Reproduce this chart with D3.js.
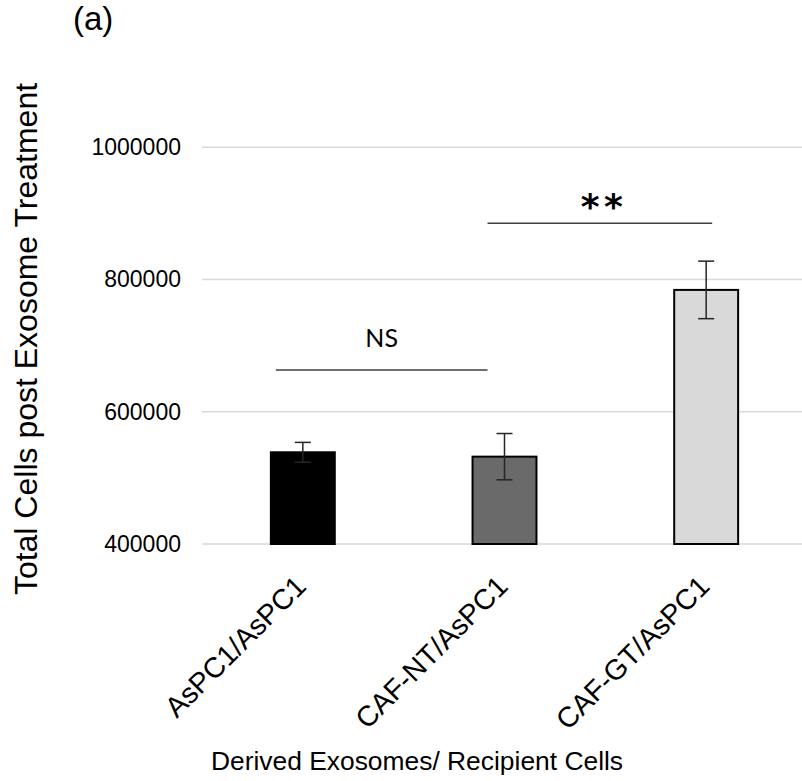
<!DOCTYPE html>
<html>
<head>
<meta charset="utf-8">
<script src="https://cdn.jsdelivr.net/npm/d3@7"></script>
<style>
  body { margin: 0; background: #fff; }
  text { font-family: "Liberation Sans", Arial, sans-serif; fill: #000; }
</style>
</head>
<body>
<svg id="chart" width="802" height="781"></svg>
<script>
// data
const categories = ["AsPC1/AsPC1", "CAF-NT/AsPC1", "CAF-GT/AsPC1"];
const means = [538700, 532100, 784300];
const errors = [15000, 35000, 43500];
const barColors = ["#000000", "#6a6a6a", "#d9d9d9"];
const yTicks = [400000, 600000, 800000, 1000000];

// significance brackets: from category, to category, level, label
const sigFrom = ["AsPC1/AsPC1", "CAF-NT/AsPC1"];
const sigTo = ["CAF-NT/AsPC1", "CAF-GT/AsPC1"];
const sigLevel = [663000, 885000];
const sigLabel = ["NS", "* *"];

const svg = d3.select("#chart");

const x = d3.scaleBand()
    .domain(categories)
    .range([202, 807])
    .paddingInner(0.683)
    .paddingOuter(0.3415);

const y = d3.scaleLinear()
    .domain([400000, 1000000])
    .range([544, 147.3]);

// gridlines
svg.append("g")
  .selectAll("line")
  .data(yTicks)
  .join("line")
    .attr("x1", 202)
    .attr("x2", 802)
    .attr("y1", d => y(d))
    .attr("y2", d => y(d))
    .attr("stroke", "#d9d9d9")
    .attr("stroke-width", 1.5);

// y axis labels
const yAxis = svg.append("g")
    .attr("transform", "translate(202,0)")
    .call(d3.axisLeft(y).tickValues(yTicks).tickFormat(d3.format("d")).tickSize(0).tickPadding(21));
yAxis.select(".domain").remove();
yAxis.selectAll("text")
    .style("font-family", "Liberation Sans, Arial, sans-serif")
    .style("font-size", "23px")
    .attr("fill", "#000");

// bars
const data = categories.map((c, i) => ({ cat: c, mean: means[i], err: errors[i], color: barColors[i] }));

svg.append("g")
  .selectAll("rect")
  .data(data)
  .join("rect")
    .attr("x", d => x(d.cat))
    .attr("y", d => y(d.mean))
    .attr("width", x.bandwidth())
    .attr("height", d => y(400000) - y(d.mean))
    .attr("fill", d => d.color)
    .attr("stroke", "#000")
    .attr("stroke-width", 2);

// error bars
const cx = d => x(d) + x.bandwidth() / 2;
const eb = svg.append("g")
    .attr("stroke", "#262626")
    .attr("stroke-width", 1.5);

eb.selectAll(".stem")
  .data(data)
  .join("line")
    .attr("class", "stem")
    .attr("x1", d => cx(d.cat))
    .attr("x2", d => cx(d.cat))
    .attr("y1", d => y(d.mean + d.err))
    .attr("y2", d => y(d.mean - d.err));

eb.selectAll(".capTop")
  .data(data)
  .join("line")
    .attr("class", "capTop")
    .attr("x1", d => cx(d.cat) - 8)
    .attr("x2", d => cx(d.cat) + 8)
    .attr("y1", d => y(d.mean + d.err))
    .attr("y2", d => y(d.mean + d.err));

eb.selectAll(".capBottom")
  .data(data)
  .join("line")
    .attr("class", "capBottom")
    .attr("x1", d => cx(d.cat) - 8)
    .attr("x2", d => cx(d.cat) + 8)
    .attr("y1", d => y(d.mean - d.err))
    .attr("y2", d => y(d.mean - d.err));

// x axis labels
svg.append("g")
  .selectAll("text")
  .data(categories)
  .join("text")
    .attr("transform", d => `translate(${cx(d) + 5},${588}) rotate(-45)`)
    .attr("text-anchor", "end")
    .style("font-size", "28.5px")
    .text(d => d);

// significance brackets
const sig = sigLabel.map((l, i) => ({ from: sigFrom[i], to: sigTo[i], level: sigLevel[i], label: l }));
const x1s = d => cx(d.from) + (d.label === "NS" ? -27 : -17);
const x2s = d => cx(d.to) + (d.label === "NS" ? -17 : 6);
const sg = svg.append("g");
sg.selectAll("line")
  .data(sig)
  .join("line")
    .attr("x1", x1s)
    .attr("x2", x2s)
    .attr("y1", d => y(d.level))
    .attr("y2", d => y(d.level))
    .attr("stroke", "#404040")
    .attr("stroke-width", 1.5);

sg.selectAll("text")
  .data(sig)
  .join("text")
    .attr("x", d => (x1s(d) + x2s(d)) / 2)
    .attr("y", d => y(d.level) + (d.label === "NS" ? -23 : -4))
    .attr("text-anchor", "middle")
    .style("font-family", d => d.label === "NS" ? "Lato, sans-serif" : "DejaVu Sans, sans-serif")
    .style("font-size", d => d.label === "NS" ? "25px" : "36px")
    .style("font-weight", d => d.label === "NS" ? "normal" : "bold")
    .style("letter-spacing", d => d.label === "NS" ? "0px" : "-4px")
    .text(d => d.label);

// axis titles
svg.append("text")
    .attr("transform", "translate(37,339) rotate(-90)")
    .attr("text-anchor", "middle")
    .style("font-size", "32px")
    .text("Total Cells post Exosome Treatment");

svg.append("text")
    .attr("x", 417)
    .attr("y", 770)
    .attr("text-anchor", "middle")
    .style("font-size", "26.4px")
    .text("Derived Exosomes/ Recipient Cells");

svg.append("text")
    .attr("x", 73)
    .attr("y", 30)
    .style("font-size", "33px")
    .text("(a)");
</script>
</body>
</html>
